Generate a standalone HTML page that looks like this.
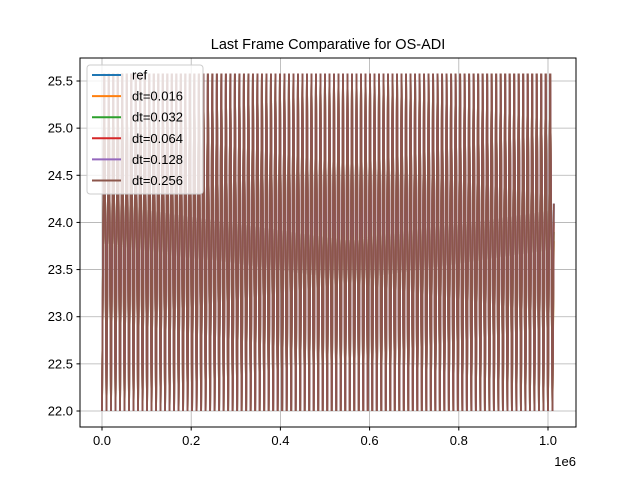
<!DOCTYPE html>
<html><head><meta charset="utf-8"><style>
body{margin:0;background:#fff}
svg{font-family:"Liberation Sans","DejaVu Sans",sans-serif}
</style></head><body>
<svg id="chart" width="640" height="480">
<rect width="640" height="480" fill="#fff"/>
<text x="328" y="49" text-anchor="middle" font-size="14.5">Last Frame Comparative for OS-ADI</text>
<g id="grid"></g>
<g id="series" clip-path="url(#clip)"></g>
<clipPath id="clip"><rect x="80" y="58" width="496" height="369"/></clipPath>
<rect x="80" y="58" width="496" height="369" fill="none" stroke="#000" stroke-width="1"/>
<g id="ticks" font-size="13"></g>
<text x="576" y="466" text-anchor="end" font-size="13">1e6</text>
<g id="legend"></g>
</svg>
<script>
const seriesNames=["ref","dt=0.016","dt=0.032","dt=0.064","dt=0.128","dt=0.256"];
const seriesColors=["#1f77b4","#ff7f0e","#2ca02c","#d62728","#9467bd","#8c564b"];
const lowValue=22.0, highValue=25.58, period=10100, cycles=100;
const endValues=[24.2,23.8,23.9,24.0,24.2,24.2];
const xTicks=[0,0.2e6,0.4e6,0.6e6,0.8e6,1.0e6];
const xTickLabels=["0.0","0.2","0.4","0.6","0.8","1.0"];
const yTicks=[22.0,22.5,23.0,23.5,24.0,24.5,25.0,25.5];
const xs=v=>102+(v/1e6)*446;
const ys=v=>411-(v-22)*(330/3.5);
const NS="http://www.w3.org/2000/svg";
function mk(t,a,p){const e=document.createElementNS(NS,t);for(const k in a)e.setAttribute(k,a[k]);p.appendChild(e);return e;}
const grid=document.getElementById('grid'),ticks=document.getElementById('ticks');
xTicks.forEach((v,i)=>{const x=xs(v);
 const g=mk('line',{x1:x,x2:x,y1:58,y2:427,stroke:'#b0b0b0','stroke-width':0.8},grid);
 
 
 mk('line',{x1:x,x2:x,y1:427,y2:430.5,stroke:'#000'},ticks);
 const t=mk('text',{x:x,y:445,'text-anchor':'middle'},ticks);t.textContent=xTickLabels[i];
 
 });
yTicks.forEach(v=>{const y=ys(v);
 const g=mk('line',{x1:80,x2:576,y1:y,y2:y,stroke:'#b0b0b0','stroke-width':0.8},grid);
 
 
 mk('line',{x1:76.5,x2:80,y1:y,y2:y,stroke:'#000'},ticks);
 const t=mk('text',{x:73,y:y+4.5,'text-anchor':'end'},ticks);t.textContent=v.toFixed(1);
 
 });
const ser=document.getElementById('series');
seriesNames.forEach((n,si)=>{
 let d='M'+xs(0)+','+ys(lowValue);
 for(let c=0;c<cycles;c++){
  d+=' L'+xs(c*period+period/2)+','+ys(highValue)+' L'+xs((c+1)*period)+','+ys(lowValue);
 }
 d+=' L'+xs(cycles*period+period*0.3)+','+ys(endValues[si]);
 const p=mk('path',{d:d,fill:'none',stroke:seriesColors[si],'stroke-width':1.8,'stroke-linejoin':'miter','stroke-miterlimit':1},ser);
 
 
});
const lg=document.getElementById('legend');
const box=mk('rect',{x:87,y:65,width:116,height:129,rx:3,fill:'#fff','fill-opacity':0.8,stroke:'#ccc'},lg);


seriesNames.forEach((n,i)=>{const y=75+i*21.1;
 const l=mk('line',{x1:92,x2:121,y1:y,y2:y,stroke:seriesColors[i],'stroke-width':2},lg);
 
 
 const t=mk('text',{x:132,y:y+4.5,'font-size':13},lg);t.textContent=n;
 
 });
</script>
</body></html>
